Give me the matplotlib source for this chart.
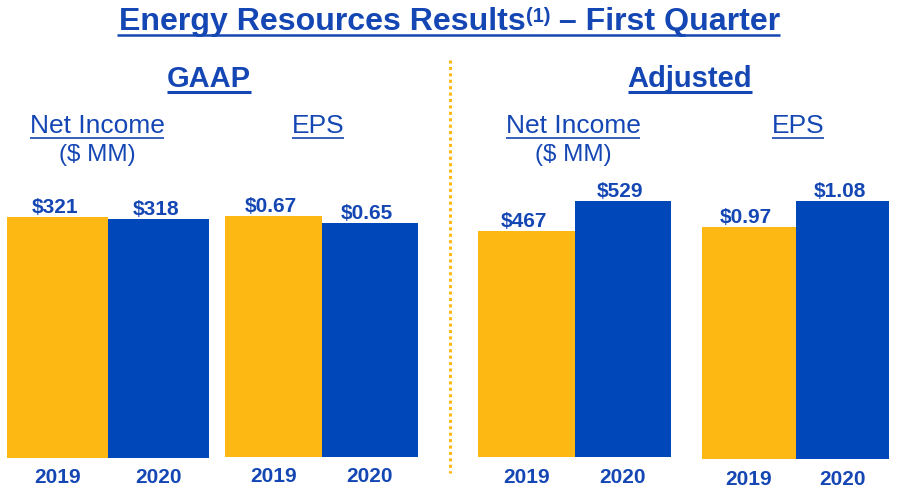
"""Energy Resources first-quarter results: GAAP vs adjusted bar panels."""

import matplotlib

matplotlib.use("Agg")
import matplotlib.pyplot as plt
from matplotlib import font_manager
from matplotlib.lines import Line2D

W, H = 901, 492
YELLOW = "#FDB813"
BLUE = "#0047BA"
TEXT = "#1446B4"
plt.rcParams["font.family"] = ["Liberation Sans", "DejaVu Sans"]

years = ["2019", "2020"]
gaap_net_income = [321, 318]
gaap_eps = [0.67, 0.65]
adj_net_income = [467, 529]
adj_eps = [0.97, 1.08]

section_titles = ["GAAP", "Adjusted"]
metric_titles = ["Net Income", "EPS"]
net_income_unit = "($ MM)"
title_parts = ["Energy Resources Results", "(1)", " – First Quarter"]

installed = {f.name for f in font_manager.fontManager.ttflist}
narrow = "Liberation Sans Narrow" if "Liberation Sans Narrow" in installed else "Liberation Sans"


def fx(x):
    return x / W


def fy(y):
    return 1 - y / H


fig = plt.figure(figsize=(W / 100, H / 100), dpi=100)

# (values, label format, left px, right px, bottom px, top px of tallest bar)
panels = [
    (gaap_net_income, "${:.0f}", 7, 209, 457.5, 216.7),
    (gaap_eps, "${:.2f}", 225, 418, 456.5, 216),
    (adj_net_income, "${:.0f}", 478, 671, 457, 201),
    (adj_eps, "${:.2f}", 702, 889, 459, 201),
]

for values, fmt, left, right, bottom, top in panels:
    ax = fig.add_axes([fx(left), fy(bottom), (right - left) / W, (bottom - top) / H])
    ax.bar([0, 1], values, width=1.0, color=[YELLOW, BLUE])
    ax.set_xlim(-0.5, 1.5)
    ax.set_ylim(0, max(values))
    ax.axis("off")
    for i, v in enumerate(values):
        ax.annotate(
            fmt.format(v), (i, v), xytext=(-2, 3.0), textcoords="offset points",
            ha="center", va="baseline", fontsize=15, fontweight="bold",
            color=TEXT, annotation_clip=False,
        )
        ax.annotate(
            years[i], (i, 0), xytext=(0, -18.5), textcoords="offset points",
            ha="center", va="baseline", fontsize=15, fontweight="bold",
            color=TEXT, annotation_clip=False,
        )

to_underline = []


def underlined(x, y, s, size, weight, lw, gap):
    t = fig.text(fx(x), fy(y), s, ha="center", va="baseline", fontsize=size,
                 fontweight=weight, color=TEXT)
    to_underline.append((t, y + gap, lw))
    return t


for sec, cx in zip(section_titles, [209, 690]):
    underlined(cx, 87, sec, 21, "bold", 2.2, 5)

for cx_ni, cx_eps in [(97, 318), (573, 798)]:
    underlined(cx_ni, 133, metric_titles[0], 19, "normal", 1.2, 4.5)
    underlined(cx_eps, 133, metric_titles[1], 19, "normal", 1.2, 4.5)
    fig.text(fx(cx_ni), fy(161), net_income_unit, ha="center", va="baseline",
             fontsize=17.5, color=TEXT)

# title: main text, superscript, rest; fitted to the reference width
t_left, t_right, t_base = 119, 779, 30
main_size = 22
sizes = [1.0, 0.62, 1.0]
rises = [0, 8, 0]
pieces = [fig.text(0, fy(t_base - r), s, ha="left", va="baseline",
                   fontsize=main_size * k, fontweight="bold", color=TEXT,
                   family=[narrow, "DejaVu Sans"])
          for s, k, r in zip(title_parts, sizes, rises)]
fig.canvas.draw()
total = sum(p.get_window_extent().width for p in pieces)
scale = (t_right - t_left) / total
for p, k in zip(pieces, sizes):
    p.set_fontsize(main_size * k * scale)
fig.canvas.draw()
cursor = t_left
for p, r in zip(pieces, rises):
    p.set_position((fx(cursor), fy(t_base - r * scale)))
    cursor += p.get_window_extent().width
to_underline.append((None, t_base + 4.5, 1.8))

fig.canvas.draw()
for t, yu, lw in to_underline:
    if t is None:
        x0, x1 = t_left - 2, t_right + 1
    else:
        bb = t.get_window_extent()
        x0, x1 = bb.x0, bb.x1
    fig.add_artist(Line2D([fx(x0), fx(x1)], [fy(yu), fy(yu)], transform=fig.transFigure,
                          color=TEXT, linewidth=lw, solid_capstyle="butt"))

# dotted divider between the GAAP and adjusted halves
fig.add_artist(Line2D([fx(450), fx(450)], [fy(60), fy(473)], transform=fig.transFigure,
                      color=YELLOW, linewidth=2.2, linestyle=(0, (1, 1.1)),
                      dash_capstyle="butt"))

fig.savefig("out.png", dpi=100)
